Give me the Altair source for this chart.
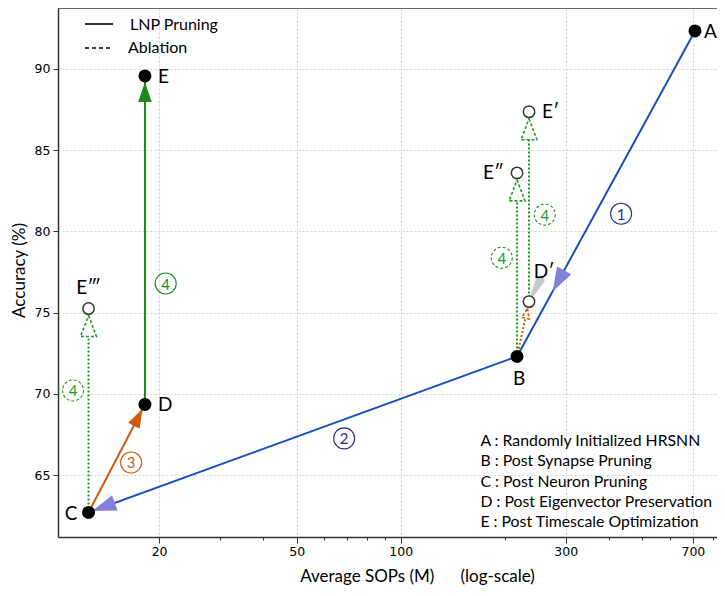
import math
import altair as alt
import pandas as pd

# ---------------- data ----------------
main_labels = ["A", "B", "C", "D", "E"]
main_sops = [710, 217, 12.5, 18.2, 18.2]
main_acc = [92.34, 72.3, 62.7, 69.35, 89.57]

abl_labels = ["E\u2032", "E\u2033", "D\u2032", "E\u2034"]
abl_sops = [235, 217, 235, 12.5]
abl_acc = [87.36, 83.6, 75.68, 75.25]

step_nums = ["1", "2", "3", "4", "4", "4", "4"]
step_sops = [434, 68.6, 16.6, 20.9, 11.27, 196, 261]
step_acc = [81.09, 67.26, 65.78, 76.79, 70.21, 78.38, 81.03]
step_colors = ["#2b2b8f", "#2b2b8f", "#d35a10", "#1a8a1a", "#1a9a1a", "#1a9a1a", "#1a9a1a"]
step_dashed = [False, False, False, False, True, True, True]

notes = [
    "A : Randomly Initialized HRSNN",
    "B : Post Synapse Pruning",
    "C : Post Neuron Pruning",
    "D : Post Eigenvector Preservation",
    "E : Post Timescale Optimization",
]
notes_sops = 170
notes_acc = [67.1, 65.85, 64.6, 63.35, 62.1]

legend_names = ["LNP Pruning", "Ablation"]

x_ticks = [20, 30, 40, 50, 60, 70, 80, 90, 100, 200, 300, 400, 500, 600, 700, 800]
x_major = [20, 50, 100, 300, 700]
y_ticks = [65, 70, 75, 80, 85, 90]

X_MIN, X_MAX = 10.2, 822.0
Y_MIN, Y_MAX = 61.19, 93.75
W, H = 659, 529

BLUE = "#1650c0"
BLUE_HEAD = "#8282d8"
ORANGE = "#d05a0a"
GREEN = "#1a8a1a"
GREEN_DOT = "#1a9a1a"

P = {l: (x, y) for l, x, y in zip(main_labels, main_sops, main_acc)}
P.update({l: (x, y) for l, x, y in zip(abl_labels, abl_sops, abl_acc)})


# ---------------- helpers (pixel geometry for arrow heads) ----------------
LX0, LX1 = math.log10(X_MIN), math.log10(X_MAX)


def px(x):
    return (math.log10(x) - LX0) / (LX1 - LX0) * W


def py(y):
    return (Y_MAX - y) / (Y_MAX - Y_MIN) * H


def ix(p):
    return 10 ** (LX0 + p / W * (LX1 - LX0))


def iy(p):
    return Y_MAX - p / H * (Y_MAX - Y_MIN)


def head(src, dst, t=1.0, shrink=0.0, length=20.0):
    x0, y0 = px(src[0]), py(src[1])
    x1, y1 = px(dst[0]), py(dst[1])
    dx, dy = x1 - x0, y1 - y0
    L = math.hypot(dx, dy)
    ux, uy = dx / L, dy / L
    tx = x0 + dx * t - ux * shrink
    ty = y0 + dy * t - uy * shrink
    cx, cy = tx - ux * length / 2, ty - uy * length / 2
    bx, by = tx - ux * length, ty - uy * length
    ang = (math.degrees(math.atan2(ux, -uy)) + 360) % 360
    return (ix(cx), iy(cy), ang, length ** 2), (ix(bx), iy(by))


# solid segments
solid = [("A", "B", BLUE), ("B", "C", BLUE), ("C", "D", ORANGE), ("D", "E", GREEN)]
rows = []
for i, (a, b, c) in enumerate(solid):
    rows.append(dict(seg=i, o=0, x=P[a][0], y=P[a][1], c=c))
    rows.append(dict(seg=i, o=1, x=P[b][0], y=P[b][1], c=c))
solid_df = pd.DataFrame(rows)

FILLED_SHAPE = "M0,-1L0.68,1L-0.68,1Z"
HOLLOW_SHAPE = "M0,-1L0.76,1L-0.76,1Z"
fh = []
for (a, b, c, t, s, ln) in [
    ("A", "B", BLUE_HEAD, 0.80, 0, 24),
    ("B", "C", BLUE_HEAD, 1.0, 4, 24),
    ("C", "D", ORANGE, 1.0, 5, 19),
    ("D", "E", GREEN, 1.0, 6, 20),
]:
    (hx, hy, ang, sz), _ = head(P[a], P[b], t, s, ln)
    fh.append(dict(x=hx, y=hy, ang=ang, sz=sz, c=c))
fh_df = pd.DataFrame(fh)

hh = []
drows = []
for i, (a, b, c, ln, s) in enumerate([
    ("C", "E\u2034", GREEN_DOT, 21, 7),
    ("B", "E\u2033", GREEN_DOT, 21, 7),
    ("D\u2032", "E\u2032", GREEN_DOT, 21, 7),
    ("B", "D\u2032", ORANGE, 10, 7),
]):
    (hx, hy, ang, sz), (bx, by) = head(P[a], P[b], 1.0, s, ln)
    hh.append(dict(x=hx, y=hy, ang=ang, sz=sz, c=c))
    drows.append(dict(seg=i, o=0, x=P[a][0], y=P[a][1], c=c))
    drows.append(dict(seg=i, o=1, x=bx, y=by, c=c))
hh_df = pd.DataFrame(hh)
dot_df = pd.DataFrame(drows)

main_df = pd.DataFrame(dict(l=main_labels, x=main_sops, y=main_acc))
abl_df = pd.DataFrame(dict(l=abl_labels, x=abl_sops, y=abl_acc))

# label styling offsets (pixels) per point label
label_style = {
    "A": (9, 1, "left"), "B": (2, 23, "center"), "C": (-11, 2, "right"),
    "D": (13, 1, "left"), "E": (13, 1, "left"),
    "E\u2032": (13, 0, "left"), "E\u2033": (-13, 0, "right"),
    "D\u2032": (15, -30, "center"), "E\u2034": (0, -21, "center"),
}

step_df = pd.DataFrame(dict(n=step_nums, x=step_sops, y=step_acc, c=step_colors, d=step_dashed))
notes_df = pd.DataFrame(dict(t=notes, x=[notes_sops] * len(notes), y=notes_acc))

wedge_df = pd.DataFrame(dict(o=[0, 1], x=[253, P["D\u2032"][0]], y=[77.0, P["D\u2032"][1]], w=[9, 1]))

# manual legend (placed in data units near the top-left corner)
leg_line_df = pd.DataFrame(dict(
    k=legend_names, x=[ix(27), ix(27)], x2=[ix(55), ix(52)], y=[iy(16), iy(40)]
))
leg_text_df = pd.DataFrame(dict(k=legend_names, x=[ix(72), ix(70)], y=[iy(17), iy(40)]))

# ---------------- encodings ----------------
major_test = "indexof([20,50,100,300,700], datum.value) >= 0"
xscale = alt.Scale(type="log", domain=[X_MIN, X_MAX], nice=False, zero=False)
yscale = alt.Scale(domain=[Y_MIN, Y_MAX], nice=False, zero=False)

xaxis = alt.Axis(
    values=x_ticks,
    format="d",
    labelExpr=f"{major_test} ? datum.label : ''",
    tickSize={"condition": {"test": major_test, "value": 6}, "value": 3},
    gridOpacity={"condition": {"test": major_test, "value": 1}, "value": 0},
    grid=True,
    gridDash=[2, 2],
    gridColor="#c8c8c8",
    gridWidth=0.8,
    domainColor="#333333",
    domainWidth=1.5,
    tickColor="#333333",
    tickWidth=1,
    labelFont="DejaVu Sans",
    labelFontSize=12.5,
    labelColor="#000000",
    labelPadding=2,
    labelFlush=False,
    labelOverlap=False,
    title="Average SOPs (M)" + "\u00a0" * 6 + "(log-scale)",
    titleFont="Lato",
    titleFontSize=17,
    titleFontWeight="normal",
    titleColor="#000000",
    titleX=359,
    titleY=48,
    titleAlign="center",
    titleBaseline="bottom",
)
yaxis = alt.Axis(
    values=y_ticks,
    grid=True,
    gridDash=[2, 2],
    gridColor="#c8c8c8",
    gridWidth=0.8,
    domainColor="#333333",
    domainWidth=1.5,
    tickColor="#333333",
    tickSize=5,
    labelFont="DejaVu Sans",
    labelFontSize=12.5,
    labelColor="#000000",
    labelPadding=3,
    title="Accuracy (%)",
    titleFont="Lato",
    titleFontSize=17,
    titleFontWeight="normal",
    titleColor="#000000",
    titleAngle=270,
    titleX=-39,
    titleY=262,
    titleAlign="center",
    titleBaseline="middle",
)


def X(f="x"):
    return alt.X(f"{f}:Q", scale=xscale, axis=xaxis)


def Y(f="y"):
    return alt.Y(f"{f}:Q", scale=yscale, axis=yaxis)


spine = alt.Chart(pd.DataFrame(dict(y=[Y_MAX]))).mark_rule(color="#333333", strokeWidth=1.5).encode(y=Y())

solid_lines = alt.Chart(solid_df).mark_line(strokeWidth=2).encode(
    x=X(), y=Y(), detail="seg:N", order="o:Q", color=alt.Color("c:N", scale=None)
)

dot_lines = alt.Chart(dot_df).mark_line(strokeWidth=2, strokeDash=[2, 2]).encode(
    x=X(), y=Y(), detail="seg:N", order="o:Q", color=alt.Color("c:N", scale=None)
)

leg_solid = alt.Chart(leg_line_df.iloc[[0]]).mark_rule(color="black", strokeWidth=1.6).encode(
    x=X(), x2="x2:Q", y=Y()
)
leg_dash = alt.Chart(leg_line_df.iloc[[1]]).mark_rule(color="black", strokeWidth=1.6, strokeDash=[4, 3]).encode(
    x=X(), x2="x2:Q", y=Y()
)
leg_text = alt.Chart(leg_text_df).mark_text(font="Lato", fontSize=16, align="left", baseline="middle",
                                            color="#000000").encode(x=X(), y=Y(), text="k:N")

wedge = alt.Chart(wedge_df).mark_trail(color="#c8c8c8").encode(
    x=X(), y=Y(), order="o:Q", size=alt.Size("w:Q", scale=None)
)

heads_f = alt.Chart(fh_df).mark_point(shape=FILLED_SHAPE, filled=True, opacity=1, strokeWidth=0).encode(
    x=X(), y=Y(), angle=alt.Angle("ang:Q", scale=None), size=alt.Size("sz:Q", scale=None),
    color=alt.Color("c:N", scale=None)
)

heads_h = alt.Chart(hh_df).mark_point(shape=HOLLOW_SHAPE, filled=False, opacity=1, strokeWidth=1.6,
                                       strokeDash=[3, 2]).encode(
    x=X(), y=Y(), angle=alt.Angle("ang:Q", scale=None), size=alt.Size("sz:Q", scale=None),
    color=alt.Color("c:N", scale=None)
)

pts = alt.Chart(main_df).mark_point(shape="circle", filled=True, size=169, color="black", opacity=1).encode(
    x=X(), y=Y()
)
hpts = alt.Chart(abl_df).mark_point(shape="circle", filled=True, size=130, fill="white",
                                     stroke="#333333", strokeWidth=1.5, opacity=1).encode(x=X(), y=Y())

all_lab_df = pd.concat([main_df, abl_df], ignore_index=True)
labels = []
for _, r in all_lab_df.iterrows():
    dx, dy, al = label_style[r.l]
    labels.append(
        alt.Chart(all_lab_df[all_lab_df.l == r.l]).mark_text(
            font="Lato", fontSize=19, color="#000000", align=al, baseline="middle", dx=dx, dy=dy
        ).encode(x=X(), y=Y(), text="l:N")
    )

circ_solid = alt.Chart(step_df[~step_df.d]).mark_point(shape="circle", size=441, strokeWidth=1.1, opacity=1,
                                                       filled=False).encode(
    x=X(), y=Y(), color=alt.Color("c:N", scale=None)
)
circ_dash = alt.Chart(step_df[step_df.d]).mark_point(shape="circle", size=441, strokeWidth=1.1, opacity=1,
                                                     filled=False, strokeDash=[3, 2]).encode(
    x=X(), y=Y(), color=alt.Color("c:N", scale=None)
)
circ_text = alt.Chart(step_df).mark_text(font="Lato", fontSize=15, baseline="middle", align="center", dy=1).encode(
    x=X(), y=Y(), text="n:N", color=alt.Color("c:N", scale=None)
)

notes_text = alt.Chart(notes_df).mark_text(font="Lato", fontSize=15.8, align="left", baseline="middle",
                                           color="#000000").encode(x=X(), y=Y(), text="t:N")

chart = alt.layer(
    spine, solid_lines, dot_lines, leg_solid, leg_dash, leg_text, wedge, heads_f, heads_h, pts, hpts,
    *labels, circ_solid, circ_dash, circ_text, notes_text
).properties(
    width=W, height=H,
    padding={"left": 50, "top": 0, "right": 0, "bottom": 50},
    autosize=alt.AutoSizeParams(type="none"),
).configure_view(stroke=None)

chart.save("out.html", embed_options={"renderer": "svg", "actions": False})
